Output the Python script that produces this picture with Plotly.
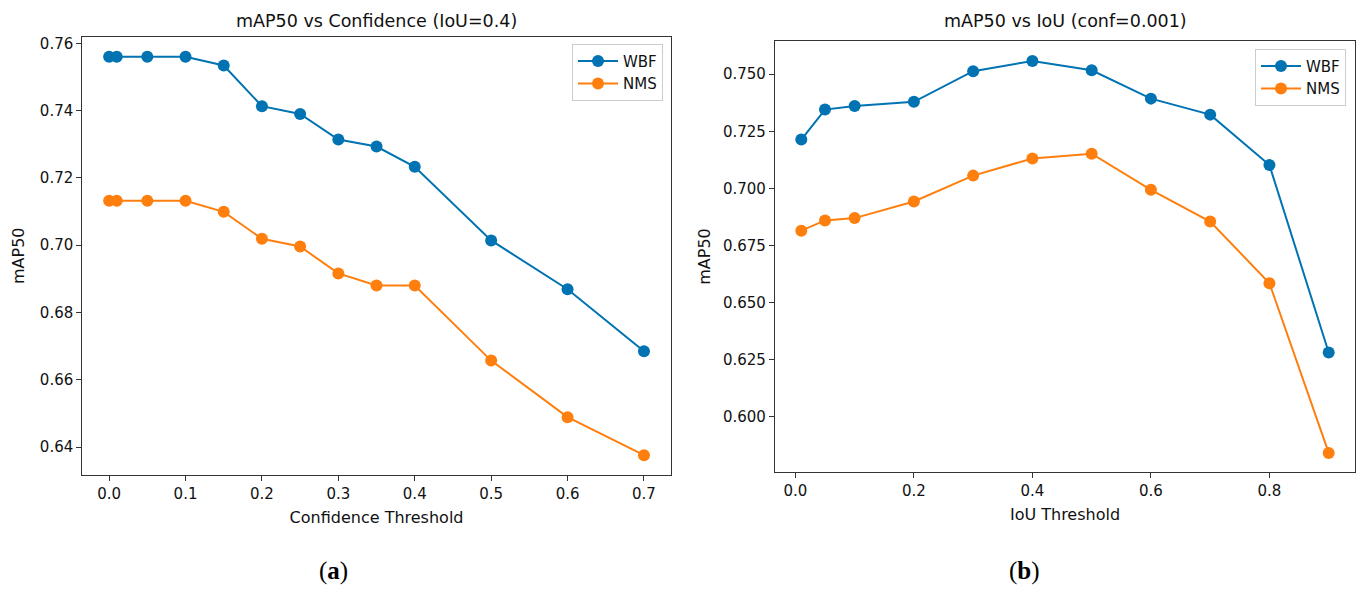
import plotly.graph_objects as go

# panel (a): mAP50 vs confidence threshold, IoU = 0.4
conf_thr = [0.0, 0.01, 0.05, 0.1, 0.15, 0.2, 0.25, 0.3, 0.35, 0.4, 0.5, 0.6, 0.7]
wbf_conf = [0.756, 0.756, 0.756, 0.756, 0.7534, 0.7413, 0.739, 0.7314, 0.7293,
            0.7233, 0.7014, 0.6869, 0.6685]
nms_conf = [0.7132, 0.7132, 0.7132, 0.7132, 0.7099, 0.7019, 0.6996, 0.6916, 0.688,
            0.688, 0.6657, 0.6489, 0.6376]

# panel (b): mAP50 vs IoU threshold, conf = 0.001
iou_thr = [0.01, 0.05, 0.1, 0.2, 0.3, 0.4, 0.5, 0.6, 0.7, 0.8, 0.9]
wbf_iou = [0.7214, 0.7345, 0.7361, 0.7379, 0.7513, 0.7558, 0.7517, 0.7393, 0.7323,
           0.7102, 0.6282]
nms_iou = [0.6815, 0.686, 0.687, 0.6943, 0.7056, 0.7131, 0.7152, 0.6994, 0.6855,
           0.6585, 0.5842]

BLUE = "#0173B2"
ORANGE = "#FF7F0E"
FONT = "DejaVu Sans"

fig = go.Figure()

def add_series(x, y, name, color, xa, ya, legend):
    fig.add_trace(go.Scatter(
        x=x, y=y, name=name, mode="lines+markers",
        line=dict(color=color, width=2),
        marker=dict(color=color, size=12),
        xaxis=xa, yaxis=ya, legend=legend, legendgroup=legend + name,
    ))

add_series(conf_thr, wbf_conf, "WBF", BLUE, "x", "y", "legend")
add_series(conf_thr, nms_conf, "NMS", ORANGE, "x", "y", "legend")
add_series(iou_thr, wbf_iou, "WBF", BLUE, "x2", "y2", "legend2")
add_series(iou_thr, nms_iou, "NMS", ORANGE, "x2", "y2", "legend2")

axis_common = dict(
    showgrid=False, zeroline=False, showline=True, mirror=True,
    linecolor="#333", linewidth=1.2, ticks="outside", ticklen=5,
    tickcolor="#333", tickfont=dict(family=FONT, size=15, color="#111"),
)
title_font = dict(family=FONT, size=16, color="#111")
legend_common = dict(
    xanchor="right", yanchor="top",
    bgcolor="rgba(255,255,255,0.8)", bordercolor="#cccccc", borderwidth=1,
    font=dict(family=FONT, size=15), itemwidth=40, tracegroupgap=0,
)

fig.update_layout(
    width=1366, height=595,
    margin=dict(l=0, r=0, t=0, b=0),
    plot_bgcolor="white", paper_bgcolor="white",
    font=dict(family=FONT, size=15, color="#111"),
    xaxis=dict(domain=[0.0603, 0.4910], range=[-0.035, 0.735],
               tickvals=[0, 0.1, 0.2, 0.3, 0.4, 0.5, 0.6, 0.7], tickformat=".1f",
               title=dict(text="Confidence Threshold", standoff=10, font=title_font),
               anchor="y", **axis_common),
    yaxis=dict(domain=[0.2029, 0.9412], range=[0.6318, 0.7619],
               tickvals=[0.64, 0.66, 0.68, 0.70, 0.72, 0.74, 0.76], tickformat=".2f",
               title=dict(text="mAP50", standoff=11, font=title_font),
               anchor="x", **axis_common),
    xaxis2=dict(domain=[0.5673, 0.9920], range=[-0.0345, 0.9445],
                tickvals=[0, 0.2, 0.4, 0.6, 0.8], tickformat=".1f",
                title=dict(text="IoU Threshold", standoff=9, font=title_font),
                anchor="y2", **axis_common),
    yaxis2=dict(domain=[0.2072, 0.9345], range=[0.5758, 0.7646],
                tickvals=[0.600, 0.625, 0.650, 0.675, 0.700, 0.725, 0.750],
                tickformat=".3f",
                title=dict(text="mAP50", standoff=8, font=title_font),
                anchor="x2", **axis_common),
    legend=dict(x=663 / 1366, y=1 - 42 / 595, **legend_common),
    legend2=dict(x=1346 / 1366, y=1 - 47 / 595, **legend_common),
)

# subplot titles
fig.add_annotation(text="mAP50 vs Confidence (IoU=0.4)", x=0.2757, y=1 - 19 / 595,
                   xref="paper", yref="paper", xanchor="center", yanchor="middle",
                   showarrow=False, font=dict(family=FONT, size=17.5, color="#111"))
fig.add_annotation(text="mAP50 vs IoU (conf=0.001)", x=0.7797, y=1 - 19 / 595,
                   xref="paper", yref="paper", xanchor="center", yanchor="middle",
                   showarrow=False, font=dict(family=FONT, size=17.5, color="#111"))

# panel captions
fig.add_annotation(text="(<b>a</b>)", x=333 / 1366, y=1 - 571 / 595,
                   xref="paper", yref="paper", xanchor="center", yanchor="middle",
                   showarrow=False,
                   font=dict(family="Liberation Serif", size=25, color="#000"))
fig.add_annotation(text="(<b>b</b>)", x=1024 / 1366, y=1 - 571 / 595,
                   xref="paper", yref="paper", xanchor="center", yanchor="middle",
                   showarrow=False,
                   font=dict(family="Liberation Serif", size=25, color="#000"))

fig.write_html("out.html", config={"displayModeBar": False},
               post_script="document.body.style.margin='0';")
